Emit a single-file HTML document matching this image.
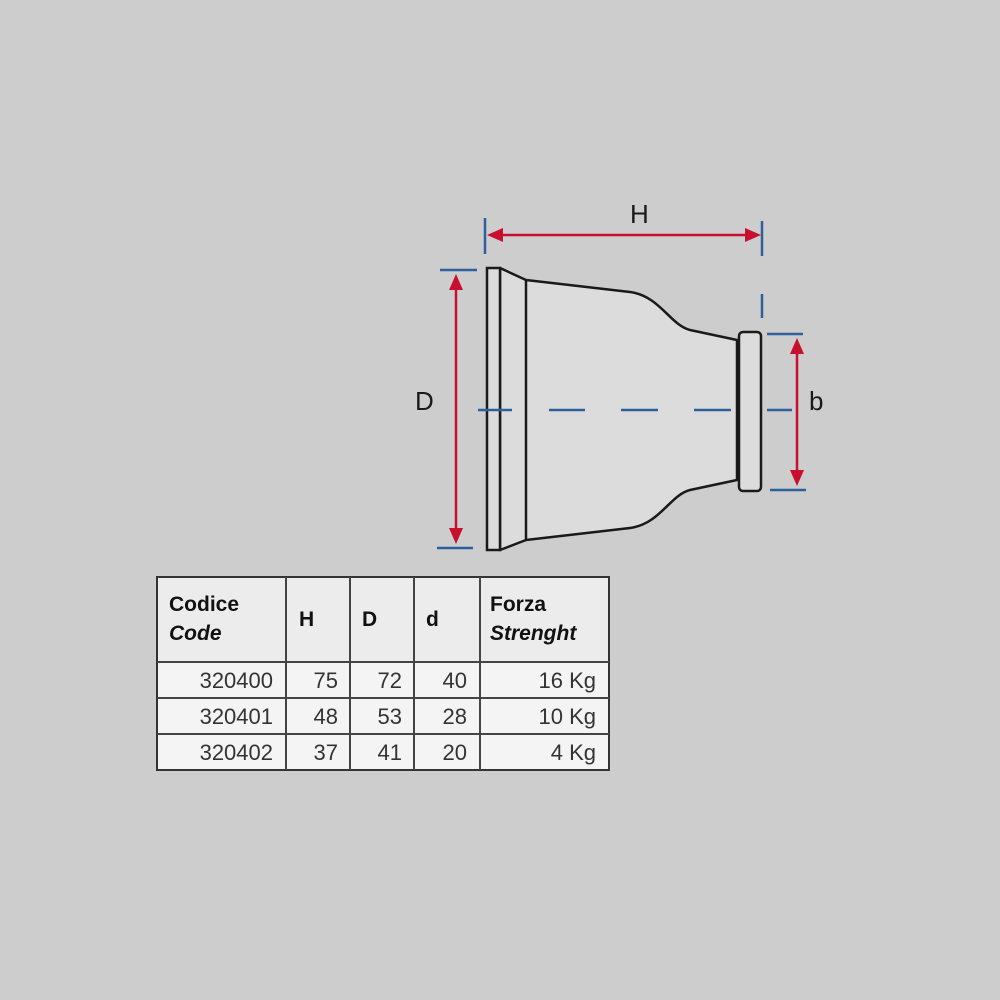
<!DOCTYPE html>
<html><head><meta charset="utf-8"><style>
html,body{margin:0;padding:0;background:#cdcdcd;width:1000px;height:1000px;overflow:hidden}
svg{position:absolute;left:0;top:0}
</style></head><body>
<svg width="1000" height="1000" viewBox="0 0 1000 1000" font-family="Liberation Sans, DejaVu Sans, sans-serif">
<rect width="1000" height="1000" fill="#cdcdcd"/>
<!-- body -->
<path d="M500,268 L526,280 L630,292 C660,296 670,325 690,330 L737,340 L737,480 L690,490 C670,495 660,524 630,528 L526,540 L500,550 Z" fill="#dcdcdc" stroke="#1a1a1a" stroke-width="2.5" stroke-linejoin="round"/>
<line x1="526" y1="280" x2="526" y2="540" stroke="#1a1a1a" stroke-width="2.5"/>
<rect x="487" y="268" width="13" height="282" fill="#dcdcdc" stroke="#1a1a1a" stroke-width="2.5"/>
<rect x="739" y="332" width="22" height="159" rx="4" fill="#dcdcdc" stroke="#1a1a1a" stroke-width="2.5"/>
<!-- centerline -->
<g stroke="#2d5f9a" stroke-width="2.5">
<line x1="478" y1="410" x2="512" y2="410"/>
<line x1="549" y1="410" x2="585" y2="410"/>
<line x1="621" y1="410" x2="658" y2="410"/>
<line x1="694" y1="410" x2="731" y2="410"/>
<line x1="767" y1="410" x2="792" y2="410"/>
<!-- ticks -->
<line x1="485" y1="218" x2="485" y2="254"/>
<line x1="762" y1="221" x2="762" y2="256"/>
<line x1="762" y1="294" x2="762" y2="318"/>
<line x1="440" y1="270" x2="477" y2="270"/>
<line x1="437" y1="548" x2="473" y2="548"/>
<line x1="767" y1="334" x2="803" y2="334"/>
<line x1="770" y1="490" x2="806" y2="490"/>
</g>
<!-- red arrows -->
<g stroke="#c8102e" stroke-width="2.5" fill="#c8102e">
<line x1="500" y1="235" x2="748" y2="235"/>
<polygon points="487,235 503,228 503,242" stroke="none"/>
<polygon points="761,235 745,228 745,242" stroke="none"/>
<line x1="456" y1="285" x2="456" y2="533"/>
<polygon points="456,274 449,290 463,290" stroke="none"/>
<polygon points="456,544 449,528 463,528" stroke="none"/>
<line x1="797" y1="350" x2="797" y2="474"/>
<polygon points="797,338 790,354 804,354" stroke="none"/>
<polygon points="797,486 790,470 804,470" stroke="none"/>
</g>
<g font-size="26" fill="#1a1a1a">
<text x="630" y="223">H</text>
<text x="415" y="410">D</text>
<text x="809" y="410">b</text>
</g>
<!-- table -->
<rect x="157" y="577" width="452" height="193" fill="#f4f4f4" stroke="#333" stroke-width="2"/>
<rect x="158" y="578" width="450" height="84" fill="#ececec"/>
<g stroke="#444" stroke-width="2">
<line x1="157" y1="662" x2="609" y2="662"/>
<line x1="157" y1="698" x2="609" y2="698"/>
<line x1="157" y1="734" x2="609" y2="734"/>
<line x1="286" y1="577" x2="286" y2="770"/>
<line x1="350" y1="577" x2="350" y2="770"/>
<line x1="414" y1="577" x2="414" y2="770"/>
<line x1="480" y1="577" x2="480" y2="770"/>
</g>
<g font-size="21" fill="#111" font-weight="bold">
<text x="169" y="611">Codice</text>
<text x="169" y="640" font-style="italic">Code</text>
<text x="299" y="626">H</text>
<text x="362" y="626">D</text>
<text x="426" y="626">d</text>
<text x="490" y="611">Forza</text>
<text x="490" y="640" font-style="italic">Strenght</text>
</g>
<g font-size="22" fill="#333" text-anchor="end">
<text x="273" y="688">320400</text><text x="338" y="688">75</text><text x="402" y="688">72</text><text x="467" y="688">40</text><text x="596" y="688">16 Kg</text>
<text x="273" y="724">320401</text><text x="338" y="724">48</text><text x="402" y="724">53</text><text x="467" y="724">28</text><text x="596" y="724">10 Kg</text>
<text x="273" y="760">320402</text><text x="338" y="760">37</text><text x="402" y="760">41</text><text x="467" y="760">20</text><text x="596" y="760">4 Kg</text>
</g>
</svg>
</body></html>
